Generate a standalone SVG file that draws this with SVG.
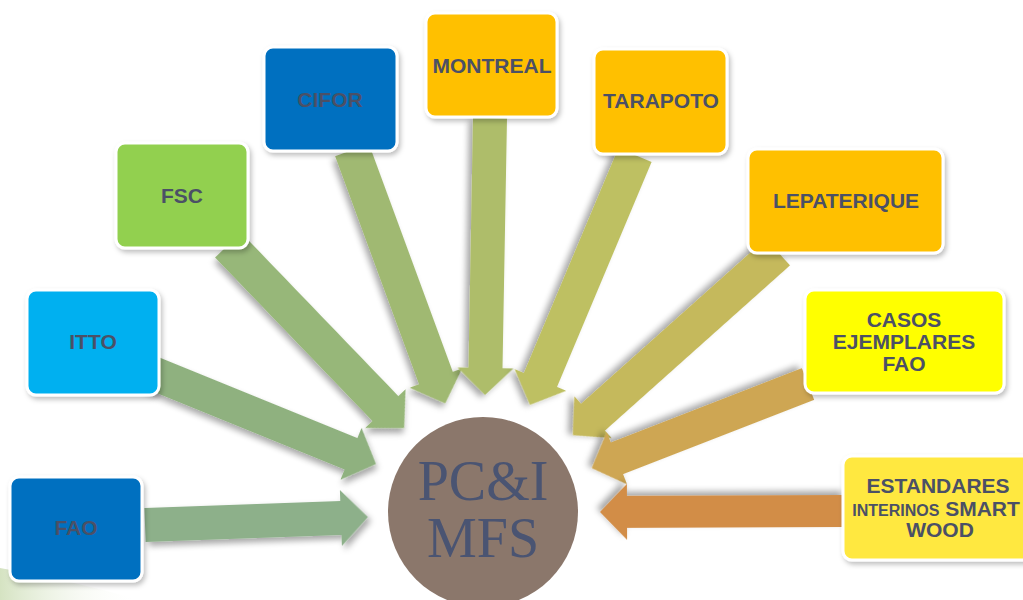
<svg xmlns="http://www.w3.org/2000/svg" width="1023" height="600" viewBox="0 0 1023 600">
<style>
.box{stroke:#ffffff;stroke-width:3;filter:url(#sh)}
.lbl{font-family:"Liberation Sans",Arial,sans-serif;font-weight:bold;font-size:21px;fill:#4B5066;text-anchor:middle}
.arr{filter:url(#sh2)}
.big{font-family:"Liberation Serif","Times New Roman",serif;font-size:56px;fill:#4A5472;text-anchor:middle}
</style>
<defs>
<filter id="sh" x="-20%" y="-20%" width="140%" height="140%">
<feDropShadow dx="2" dy="3" stdDeviation="2.5" flood-color="#000" flood-opacity="0.25"/>
</filter>
<filter id="sh2" x="-20%" y="-30%" width="140%" height="160%">
<feDropShadow dx="3" dy="4" stdDeviation="3" flood-color="#000" flood-opacity="0.35"/>
</filter>
<linearGradient id="sw" x1="0" y1="0" x2="1" y2="0">
<stop offset="0" stop-color="#D5E3C2"/>
<stop offset="1" stop-color="#FFFFFF" stop-opacity="0"/>
</linearGradient>
</defs>
<rect width="1023" height="600" fill="#ffffff"/>
<path d="M0,568 Q70,580 140,600 L0,600 Z" fill="url(#sw)"/>
<g id="connectors">
<polygon class="arr" fill="#8DB08A" points="0,-17 196,-17 196,-28 223,0 196,28 196,17 0,17" transform="translate(145,525) rotate(-2.05)"/>
<polygon class="arr" fill="#8FB17F" points="0,-17 217,-17 217,-28 244,0 217,28 217,17 0,17" transform="translate(150,372) rotate(22.15)"/>
<polygon class="arr" fill="#97B779" points="0,-18 227,-18 227,-28 254,0 227,28 227,18 0,18" transform="translate(228,245) rotate(46.1)"/>
<polygon class="arr" fill="#A0B972" points="0,-18 243,-18 243,-28 270,0 243,28 243,18 0,18" transform="translate(352,150) rotate(69.8)"/>
<polygon class="arr" fill="#AEBD6B" points="0,-17 250,-17 250,-28 277,0 250,28 250,17 0,17" transform="translate(490,118) rotate(91.03)"/>
<polygon class="arr" fill="#BEC062" points="0,-18 244,-18 244,-28 271,0 244,28 244,18 0,18" transform="translate(635,155) rotate(112.8)"/>
<polygon class="arr" fill="#C5B95B" points="0,-18 248,-18 248,-28 275,0 248,28 248,18 0,18" transform="translate(778,252) rotate(138.24)"/>
<polygon class="arr" fill="#CEA653" points="0,-17 205,-17 205,-28 232,0 205,28 205,17 0,17" transform="translate(808,384) rotate(158.75)"/>
<polygon class="arr" fill="#D28D47" points="0,-16 218,-16 218,-28 245,0 218,28 218,16 0,16" transform="translate(845,511) rotate(179.77)"/>
</g>
<g id="node-fao">
<rect class="box" x="10" y="477" width="132" height="104" rx="9" fill="#0070C0"/>
<text class="lbl" x="76" y="535">FAO</text>
</g>
<g id="node-itto">
<rect class="box" x="27" y="290" width="132" height="105" rx="9" fill="#00B0F0"/>
<text class="lbl" x="93" y="349">ITTO</text>
</g>
<g id="node-fsc">
<rect class="box" x="116" y="143" width="132" height="105" rx="9" fill="#92D050"/>
<text class="lbl" x="182" y="203">FSC</text>
</g>
<g id="node-cifor">
<rect class="box" x="264" y="47" width="133" height="104" rx="9" fill="#0070C0"/>
<text class="lbl" x="330" y="107">CIFOR</text>
</g>
<g id="node-montreal">
<rect class="box" x="426" y="13" width="131" height="104" rx="9" fill="#FFC000"/>
<text class="lbl" x="492" y="73">MONTREAL</text>
</g>
<g id="node-tarapoto">
<rect class="box" x="594" y="49" width="133" height="105" rx="9" fill="#FFC000"/>
<text class="lbl" x="661" y="108">TARAPOTO</text>
</g>
<g id="node-lepaterique">
<rect class="box" x="748" y="149" width="195" height="104" rx="9" fill="#FFC000"/>
<text class="lbl" x="846" y="208">LEPATERIQUE</text>
</g>
<g id="node-casos">
<rect class="box" x="805" y="290" width="199" height="103" rx="9" fill="#FFFF00"/>
<text class="lbl" x="904" y="327">CASOS</text>
<text class="lbl" x="904" y="349">EJEMPLARES</text>
<text class="lbl" x="904" y="371">FAO</text>
</g>
<g id="node-estandares">
<rect class="box" x="843" y="456" width="200" height="104" rx="9" fill="#FFE840"/>
<text class="lbl" x="938" y="493">ESTANDARES</text>
<text class="lbl" x="936" y="516"><tspan font-size="16px">INTERINOS</tspan> SMART</text>
<text class="lbl" x="940" y="537">WOOD</text>
</g>
<g id="node-center">
<circle cx="483" cy="512" r="95" fill="#8B776B"/>
<text class="big" x="483" y="500">PC&amp;I</text>
<text class="big" x="483" y="557">MFS</text>
</g>
</svg>
